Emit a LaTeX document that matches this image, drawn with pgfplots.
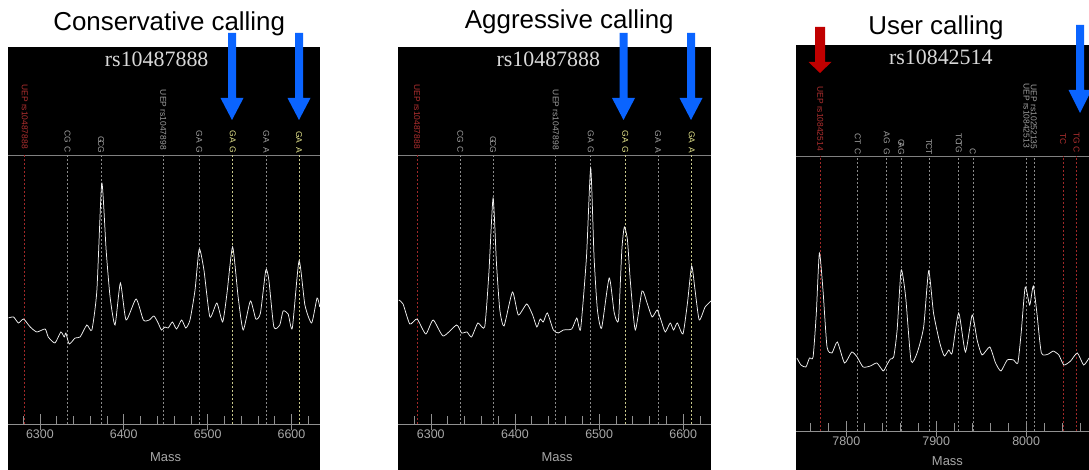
\documentclass[border=0pt]{standalone}
\usepackage{pgfplots}
\pgfplotsset{compat=1.18}
\usepackage{fontspec}
\setmainfont{Liberation Sans}
\newfontfamily\seriffont{Liberation Serif}
\definecolor{tracecol}{HTML}{F2F2F2}
\definecolor{dgray}{HTML}{8A8A8A}
\definecolor{dred}{HTML}{A02828}
\definecolor{dyel}{HTML}{C8C88C}
\definecolor{lgray}{HTML}{A0A0A0}
\definecolor{lred}{HTML}{B23030}
\definecolor{lyel}{HTML}{E6E68C}
\definecolor{hline}{HTML}{808080}
\definecolor{axgray}{HTML}{909090}
\definecolor{ticklab}{HTML}{A8A8A8}
\definecolor{ttl}{HTML}{D9D9D9}
\definecolor{arrblue}{HTML}{0A64FF}
\definecolor{arrred}{HTML}{C00000}

\newcommand{\darr}[7]{% x, top, headstart, tip, halfshaft, halfhead, color
  \fill[#7] ({#1-#5},{470-#2}) -- ({#1+#5},{470-#2}) -- ({#1+#5},{470-#3}) -- ({#1+#6},{470-#3}) -- (#1,{470-#4}) -- ({#1-#6},{470-#3}) -- ({#1-#5},{470-#3}) -- cycle;}

\tikzset{lblsty/.style={rotate=-90, anchor=east, inner sep=0pt, font=\fontsize{8.5}{9}\selectfont}}
\newcommand{\lbl}[5]{\node[lblsty, text=#4, xshift=#3bp] at (axis cs:#1,#5) {#2};}
\newcommand{\vl}[3]{\addplot[#2, dash pattern=on 2pt off 2pt, line width=0.6pt] coordinates {(#1,0) (#1,#3)};}

\pgfplotsset{
  spec/.style={
    scale only axis, axis y line=none, axis x line*=middle,
    x axis line style={draw=axgray, line width=0.8pt},
    tick align=inside,
    major tick length=16bp, minor tick length=8bp,
    major tick style={draw=axgray, line width=0.6pt, yshift=-6bp},
    minor tick style={draw=axgray, line width=0.6pt},
    scaled x ticks=false,
    xticklabel style={font=\fontsize{12.5}{14}\selectfont, text=ticklab, yshift=-2bp},
    /pgf/number format/assume math mode=true,
    /pgf/number format/1000 sep={},
  },
  spectrace/.style={color=tracecol, line width=0.75pt, smooth, tension=0.35, mark=none},
}

\begin{document}
\begin{tikzpicture}[x=1bp,y=1bp]
\fill[white] (0,0) rectangle (1089,470);
\useasboundingbox (0,0) rectangle (1089,470);
\fill[black] (8,0) rectangle (320,423);
\fill[black] (398,0) rectangle (711,423);
\fill[black] (796,0) rectangle (1089,425);

% titles
\node[anchor=base, font=\fontsize{26}{30}\selectfont] at (169.2,{470-30.7}) {Conservative calling};
\node[anchor=base, font=\fontsize{26}{30}\selectfont] at (569.3,{470-28.3}) {Aggressive calling};
\node[anchor=base, font=\fontsize{26}{30}\selectfont] at (936,{470-35}) {User calling};
\node[anchor=base, font=\seriffont\fontsize{22}{26}\selectfont, text=ttl] at (156.7,{470-66.5}) {rs10487888};
\node[anchor=base, font=\seriffont\fontsize{22}{26}\selectfont, text=ttl] at (548.3,{470-66.5}) {rs10487888};
\node[anchor=base, font=\seriffont\fontsize{22}{26}\selectfont, text=ttl] at (940.8,{470-65}) {rs10842514};

% ---------------- Panel 1 ----------------
\begin{axis}[spec, at={(8bp,0bp)}, anchor=south west, width=312bp, height=423bp,
  xmin=6262, xmax=6634, ymin=-46, ymax=377,
  xtick={6300,6400,6500,6600}, minor xtick={6280,6300,...,6620}]
\addplot[hline, line width=0.8pt] coordinates {(6262,269) (6634,269)};
\vl{6282}{dred}{269}
\vl{6333}{dgray}{269}
\vl{6373}{dgray}{269}
\vl{6447}{dgray}{269}
\vl{6490}{dgray}{269}
\vl{6530}{dyel}{269}
\vl{6570}{dgray}{269}
\vl{6609}{dyel}{269}
\addplot[spectrace] coordinates {
(6262.6,106) (6268.6,107) (6274.5,101) (6280.5,105) (6288.5,97) (6296.4,92) (6306.3,95) (6310,87) (6318,81) (6325,92) (6329,87) (6331,91) (6335,80) (6342,86) (6348,87) (6356,99) (6362,94) (6368,134) (6373.8,241) (6379,174) (6383.7,127) (6389.6,99) (6396,141) (6402.8,104) (6414.7,125) (6423.4,104) (6430.5,104) (6436,108) (6441,101) (6445,94) (6449,97) (6453,96) (6458,102) (6463,95) (6469,104) (6474,96) (6479,104) (6485,134) (6490,175) (6495.6,154) (6502.7,107) (6511,121) (6517.9,102) (6523,130) (6529.8,177) (6536.4,127) (6542.4,94) (6551,123) (6557.5,105) (6563,111) (6569.4,154) (6573,144) (6579,97) (6586,99) (6590,113) (6596,110) (6601,96) (6609,163) (6616,119) (6624,101) (6630.5,126) (6633.7,117)};
\lbl{6282}{UEP rs10487888}{-1}{lred}{274}
\lbl{6333}{CG}{-6.5}{lgray}{274}
\lbl{6333}{C}{3}{lgray}{274}
\lbl{6373}{G}{-6.5}{lgray}{274}
\lbl{6373}{CG}{3.5}{lgray}{274}
\lbl{6447}{UEP rs1047898}{0}{lgray}{274}
\lbl{6490}{GA}{-7}{lgray}{274}
\lbl{6490}{G}{3}{lgray}{274}
\lbl{6530}{GA}{-7}{lyel}{274}
\lbl{6530}{G}{3.5}{lyel}{274}
\lbl{6570}{GA}{-7}{lgray}{274}
\lbl{6570}{A}{3}{lgray}{274}
\lbl{6609}{GA}{-6.5}{lyel}{274}
\lbl{6609}{A}{3}{lyel}{274}
\node[text=ticklab, font=\fontsize{13}{15}\selectfont] at (axis cs:6450,-33) {Mass};
\end{axis}

% ---------------- Panel 2 ----------------
\begin{axis}[spec, at={(398bp,0bp)}, anchor=south west, width=313bp, height=423bp,
  xmin=6261, xmax=6633, ymin=-46, ymax=377,
  xtick={6300,6400,6500,6600}, minor xtick={6280,6300,...,6620}]
\addplot[hline, line width=0.8pt] coordinates {(6261,269) (6633,269)};
\vl{6283.7}{dred}{269}
\vl{6335}{dgray}{269}
\vl{6374}{dgray}{269}
\vl{6448.5}{dgray}{269}
\vl{6490}{dgray}{269}
\vl{6531}{dyel}{269}
\vl{6570}{dgray}{269}
\vl{6610}{dyel}{269}
\addplot[spectrace] coordinates {
(6262,124) (6267,120) (6275,100) (6283.7,105) (6294,90) (6302.8,104) (6314.7,88) (6330.6,99) (6336.5,91) (6343,92) (6348.4,87) (6356,101) (6364,97) (6369,151) (6374,226) (6378,161) (6382,114) (6387,98) (6397,132) (6404,109) (6414,120) (6421,109) (6426,97) (6430,105) (6433.7,102) (6438.5,111) (6445.6,94) (6451.6,91) (6457.5,94) (6467.5,95) (6473.5,106) (6478,95) (6485,167) (6490,256) (6494,167) (6498,114) (6503,96) (6512,146) (6518,111) (6523,104) (6527,174) (6530,197) (6533.7,184) (6537,144) (6543,94) (6551,133) (6557,121) (6563,107) (6569,114) (6573.5,104) (6578.6,92) (6584.5,101) (6588.5,94) (6593,101) (6599.6,90) (6605,121) (6610,158) (6614,134) (6619,104) (6626,117) (6633,123)};
\lbl{6283.7}{UEP rs10487888}{-1}{lred}{274}
\lbl{6335}{CG}{-6.5}{lgray}{274}
\lbl{6335}{C}{3}{lgray}{274}
\lbl{6374}{G}{-6.5}{lgray}{274}
\lbl{6374}{CG}{3.5}{lgray}{274}
\lbl{6448.5}{UEP rs1047898}{0}{lgray}{274}
\lbl{6490}{GA}{-7}{lgray}{274}
\lbl{6490}{G}{3}{lgray}{274}
\lbl{6531}{GA}{-7}{lyel}{274}
\lbl{6531}{G}{3.5}{lyel}{274}
\lbl{6570}{GA}{-7}{lgray}{274}
\lbl{6570}{A}{3}{lgray}{274}
\lbl{6610}{GA}{-6.5}{lyel}{274}
\lbl{6610}{A}{3}{lyel}{274}
\node[text=ticklab, font=\fontsize{13}{15}\selectfont] at (axis cs:6450,-33) {Mass};
\end{axis}

% ---------------- Panel 3 ----------------
\begin{axis}[spec, at={(796bp,0bp)}, anchor=south west, width=293bp, height=425bp,
  xmin=7744, xmax=8070, ymin=-39, ymax=386,
  xtick={7800,7900,8000}, minor xtick={7760,7780,...,8060}]
\addplot[hline, line width=0.8pt] coordinates {(7744,275) (8070,275)};
\vl{7771}{dred}{275}
\vl{7812.6}{dgray}{275}
\vl{7845}{dgray}{275}
\vl{7861}{dgray}{275}
\vl{7892}{dgray}{275}
\vl{7925}{dgray}{275}
\vl{7940.7}{dgray}{275}
\vl{8000.4}{dgray}{275}
\vl{8008.6}{dgray}{275}
\vl{8041}{dred}{275}
\vl{8056}{dred}{275}
\addplot[spectrace] coordinates {
(7745,73) (7749.5,66) (7755,64) (7759,73) (7763,74) (7766.6,118) (7770,178) (7774,141) (7778.5,84) (7784,78) (7790,89) (7798,68) (7806,79) (7812,74) (7818.6,64) (7826.7,65) (7834,68) (7841,60) (7845,66) (7849,72) (7852.7,74) (7856.5,101) (7861,161) (7866,134) (7872,70) (7878.7,78) (7886,104) (7891.6,160) (7897,118) (7904,88) (7909,75) (7914,81) (7917.7,78) (7925,118) (7932.5,79) (7940,116) (7945.5,91) (7951,76) (7959.6,84) (7966,68) (7972,60) (7979,71) (7986,71) (7990.8,68) (7994.5,98) (7999,144) (8004,126) (8008,145) (8012,118) (8017,78) (8025,77) (8030,80) (8036.4,76) (8042,66) (8049.5,70) (8057,78) (8064,66) (8070,73)};
\lbl{7771}{UEP rs10842514}{0}{lred}{280}
\lbl{7812.6}{CT}{-6}{lgray}{280}
\lbl{7812.6}{C}{4}{lgray}{280}
\lbl{7845}{AG}{-7}{lgray}{280}
\lbl{7845}{G}{4}{lgray}{280}
\lbl{7861}{G}{-5}{lgray}{280}
\lbl{7861}{AG}{4}{lgray}{280}
\lbl{7892}{T}{-6}{lgray}{280}
\lbl{7892}{CT}{4}{lgray}{280}
\lbl{7925}{TC}{-6}{lgray}{280}
\lbl{7925}{TG}{2}{lgray}{280}
\lbl{7940.7}{C}{4}{lgray}{280}
\lbl{8000.4}{UEP rs10842513}{-3}{lgray}{280}
\lbl{8008.6}{UEP rs10252135}{-1.5}{lgray}{280}
\lbl{8041}{TC}{-6}{lred}{280}
\lbl{8056}{TG}{-7}{lred}{280}
\lbl{8056}{C}{2}{lred}{280}
\node[text=ticklab, font=\fontsize{13}{15}\selectfont] at (axis cs:7912.5,-30.5) {Mass};
\end{axis}

% arrows
\darr{232}{33}{98}{120}{4}{11.5}{arrblue}
\darr{299}{33}{98}{120}{4}{11.5}{arrblue}
\darr{623.5}{33}{98}{120}{4}{11.5}{arrblue}
\darr{691}{33}{98}{120}{4}{11.5}{arrblue}
\darr{820}{27}{62}{73}{5}{11.5}{arrred}
\darr{1080}{25}{90}{113}{4}{11.5}{arrblue}
\end{tikzpicture}
\end{document}
